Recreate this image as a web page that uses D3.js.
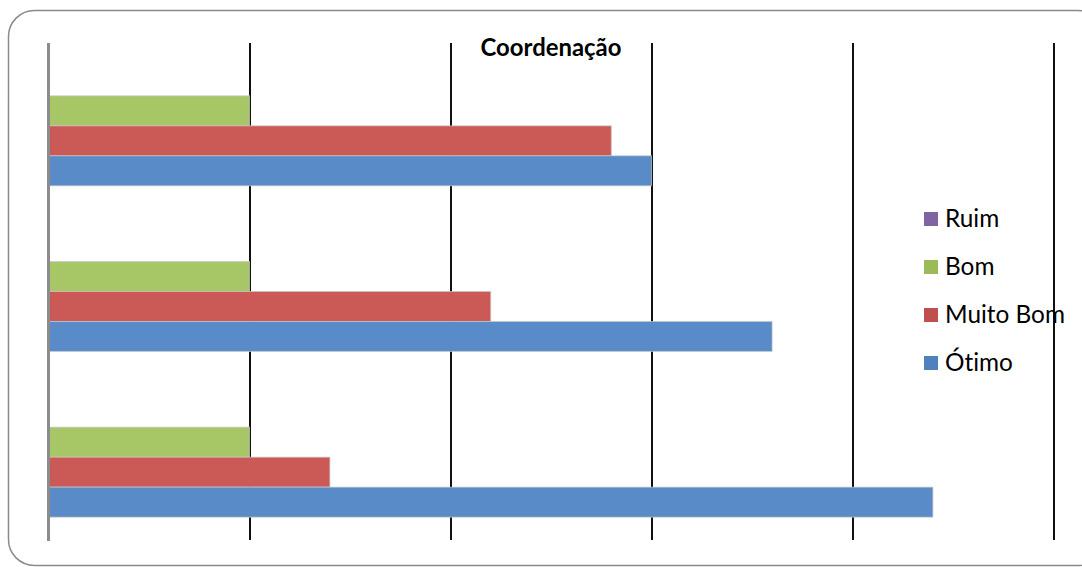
<!DOCTYPE html>
<html>
<head>
<meta charset="utf-8">
<script src="https://cdn.jsdelivr.net/npm/d3@7"></script>
<style>
  html, body { margin: 0; padding: 0; background: #fff; }
  svg { display: block; }
  text { font-variant-ligatures: none; font-feature-settings: "liga" 0, "clig" 0; }
</style>
</head>
<body>
<svg id="chart" width="1082" height="567"></svg>
<script>
// Categories, top to bottom
const categories = ["Grupo 1", "Grupo 2", "Grupo 3"];

// Series (stacked top to bottom inside each group)
const seriesNames = ["Ruim", "Bom", "Muito Bom", "Ótimo"];
const ruim     = [0, 0, 0];
const bom      = [1, 1, 1];
const muitoBom = [2.8, 2.2, 1.4];
const otimo    = [3.0, 3.6, 4.4];

const xTicks = [0, 1, 2, 3, 4, 5];
const title = "Coordenação";

const seriesValues = { "Ruim": ruim, "Bom": bom, "Muito Bom": muitoBom, "Ótimo": otimo };
const colors = { "Ruim": "#8266A6", "Bom": "#A7C665", "Muito Bom": "#CB5A56", "Ótimo": "#588BC8" };
const legendColors = { "Ruim": "#8064A2", "Bom": "#9BBB59", "Muito Bom": "#C0504D", "Ótimo": "#4F81BD" };

const svg = d3.select("#chart");

// Outer chart frame
svg.append("rect")
  .attr("x", 8.5).attr("y", 10.5)
  .attr("width", 1095).attr("height", 555)
  .attr("rx", 26).attr("ry", 26)
  .attr("fill", "#fff")
  .attr("stroke", "#8a8a8a")
  .attr("stroke-width", 1.5);

const plot = { left: 48.5, right: 1053.5, top: 43, bottom: 540 };

const x = d3.scaleLinear().domain([0, 5]).range([plot.left, plot.right]);
const y = d3.scaleBand().domain(categories)
  .range([plot.top, plot.bottom])
  .paddingInner(0.276).paddingOuter(0.138);
const ySub = d3.scaleBand().domain(seriesNames).range([0, y.bandwidth()]);

// Vertical gridlines
const grid = svg.append("g")
  .attr("transform", `translate(0,${plot.top})`)
  .call(d3.axisTop(x).tickValues(xTicks.slice(1)).tickSize(-(plot.bottom - plot.top)).tickFormat(""));
grid.select(".domain").remove();
grid.selectAll(".tick line").attr("stroke", "#111").attr("stroke-width", 2);

// Bars
const groups = svg.append("g").selectAll("g")
  .data(categories)
  .join("g")
  .attr("transform", d => `translate(0,${y(d)})`);

groups.selectAll("rect")
  .data((c, i) => seriesNames.map(s => ({ s, v: seriesValues[s][i] })))
  .join("rect")
  .attr("x", x(0) + 1)
  .attr("y", d => ySub(d.s))
  .attr("width", d => Math.max(0, x(d.v) - x(0) - 1))
  .attr("height", ySub.bandwidth())
  .attr("fill", d => colors[d.s])
  .attr("stroke", d => d.v > 0 ? "rgba(200,200,200,0.7)" : "none")
  .attr("stroke-width", 1);

// Category axis line at zero
svg.append("line")
  .attr("x1", x(0)).attr("x2", x(0))
  .attr("y1", plot.top).attr("y2", plot.bottom + 1)
  .attr("stroke", "#8c8c8c")
  .attr("stroke-width", 3);

// Fit a text element to a target width by adjusting font size
function fitText(sel, target) {
  sel.attr("font-size", 100);
  const w = sel.node().getComputedTextLength();
  sel.attr("font-size", 100 * target / w);
}

// Title
const t = svg.append("text")
  .attr("x", (plot.left + plot.right) / 2)
  .attr("y", 56)
  .attr("text-anchor", "middle")
  .attr("font-family", "Lato, 'Open Sans', sans-serif")
  .attr("font-weight", "bold")
  .attr("fill", "#000")
  .text(title);
fitText(t, 141);

// Legend
const legend = svg.append("g");
const legItems = legend.selectAll("g")
  .data(seriesNames)
  .join("g")
  .attr("transform", (d, i) => `translate(924,${212 + i * 48})`);
legItems.append("rect")
  .attr("width", 14).attr("height", 14)
  .attr("fill", d => legendColors[d]);
const legTexts = legItems.append("text")
  .attr("x", 21).attr("y", 15)
  .attr("font-family", "Lato, 'Open Sans', sans-serif")
  .attr("fill", "#000")
  .text(d => d);
// size legend text so "Muito Bom" spans its measured width
const probe = legTexts.filter(d => d === "Muito Bom");
probe.attr("font-size", 100);
const fs = 100 * 120 / probe.node().getComputedTextLength();
legTexts.attr("font-size", fs);
</script>
</body>
</html>
